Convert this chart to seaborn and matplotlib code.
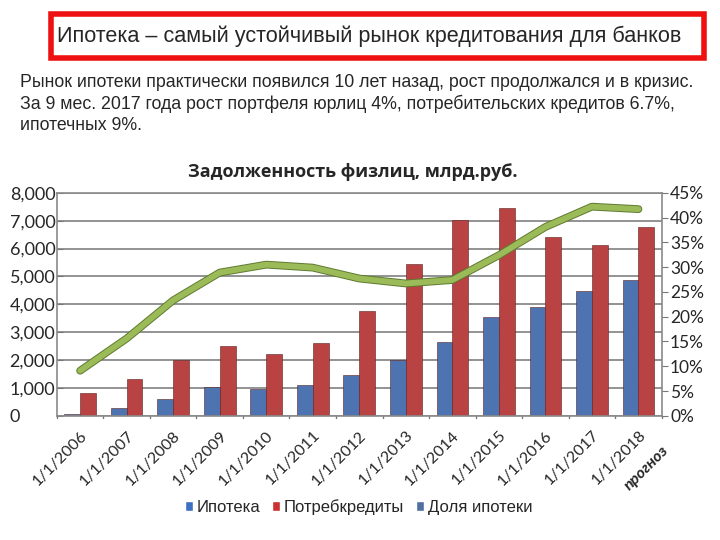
import matplotlib
matplotlib.use("Agg")
import seaborn as sns
import pandas as pd
import numpy as np
import matplotlib.pyplot as plt
import matplotlib.patheffects as pe
from matplotlib.patches import Rectangle, Patch
from matplotlib.ticker import FuncFormatter, MultipleLocator

years = ['1/1/2006', '1/1/2007', '1/1/2008', '1/1/2009', '1/1/2010', '1/1/2011', '1/1/2012',
         '1/1/2013', '1/1/2014', '1/1/2015', '1/1/2016', '1/1/2017', '1/1/2018']
ipoteka = [60, 265, 590, 1020, 970, 1090, 1450, 2000, 2630, 3530, 3900, 4460, 4860]
potreb = [800, 1330, 2000, 2500, 2200, 2620, 3760, 5460, 7040, 7470, 6420, 6140, 6790]
dolya = [9.1, 15.6, 23.3, 28.9, 30.5, 29.9, 27.7, 26.7, 27.4, 32.4, 38.1, 42.2, 41.7]

sns.set_style('white')
narrow = ['Liberation Sans', 'DejaVu Sans']
chartfont = ['Lato', 'DejaVu Sans']
plt.rcParams['font.family'] = chartfont

df = pd.DataFrame({'year': years * 2,
                   'value': ipoteka + potreb,
                   'series': ['Ипотека'] * len(years) + ['Потребкредиты'] * len(years)})

fig = plt.figure(figsize=(7.2, 5.4), dpi=100)
ax = fig.add_axes([0.079, 0.230, 0.840, 0.413])

blue = '#3d6fc2'
red = '#cc3030'
sns.barplot(data=df, x='year', y='value', hue='series', palette=[blue, red],
            width=0.68, gap=0, ax=ax, legend=False, edgecolor='#5a2020', linewidth=0.4)
ax.set_ylim(0, 8000)
ax.set_xlim(-0.5, len(years) - 0.5)
ax.yaxis.set_major_locator(MultipleLocator(1000))
ax.yaxis.set_major_formatter(FuncFormatter(lambda v, p: '0' if v == 0 else f'{int(v):,}'))
ax.grid(axis='y', color='#8a8a8a', linewidth=1.3)
ax.set_axisbelow(True)
ax.set_xlabel('')
ax.set_ylabel('')
for s in ax.spines.values():
    s.set_color('#8a8a8a')
    s.set_linewidth(1.2)
ax.tick_params(axis='y', labelsize=13, length=4, color='#777777', pad=34, direction='in')
for t in ax.get_yticklabels():
    t.set_horizontalalignment('left')
ax.set_xticks(range(len(years)))
ax.set_xticklabels(years, rotation=45, ha='right', rotation_mode='anchor', fontsize=11.5)
ax.tick_params(axis='x', length=0, pad=9)
for b in np.arange(-0.5, len(years), 1.0):
    ax.plot([b, b], [0, -70], color='#777777', lw=1.0, clip_on=False)

ax2 = ax.twinx()
sns.lineplot(x=np.arange(len(years)), y=dolya, ax=ax2, color='#9bbb59', linewidth=4.2,
             path_effects=[pe.Stroke(linewidth=5.6, foreground='#5f7a30'), pe.Normal()])
ax2.set_ylim(0, 45)
ax2.yaxis.set_major_locator(MultipleLocator(5))
ax2.yaxis.set_major_formatter(FuncFormatter(lambda v, p: f'{int(v)}%'))
ax2.tick_params(axis='y', labelsize=12.5, length=4, color='#777777', pad=2, direction='out')
ax2.grid(False)
for s in ax2.spines.values():
    s.set_visible(False)

ax.text(len(years) - 1 + 0.6, -0.145, 'прогноз', transform=ax.get_xaxis_transform(),
        rotation=45, ha='right', va='center', rotation_mode='anchor', fontsize=11.5,
        fontweight='bold', fontstyle='italic')

fig.text(0.490, 0.681, 'Задолженность физлиц, млрд.руб.', ha='center', va='center',
         fontsize=13, fontweight='bold', family=['Open Sans', 'DejaVu Sans'])

handles = [Patch(facecolor=blue), Patch(facecolor=red), Patch(facecolor='#4f6fa0')]
fig.legend(handles, ['Ипотека', 'Потребкредиты', 'Доля ипотеки'], loc='center',
           bbox_to_anchor=(0.498, 0.061), ncol=3, frameon=False, handlelength=0.5,
           handleheight=0.5, handletextpad=0.2, columnspacing=0.7,
           prop={'family': narrow, 'size': 12})

fig.patches.append(Rectangle((0.071, 0.892), 0.907, 0.082, transform=fig.transFigure,
                             fill=False, edgecolor='#ee1111', linewidth=4))
fig.text(0.079, 0.932, 'Ипотека – самый устойчивый рынок кредитования для банков',
         ha='left', va='center', fontsize=15.6, family=narrow)
fig.text(0.028, 0.848, 'Рынок ипотеки практически появился 10 лет назад, рост продолжался и в кризис.',
         ha='left', va='center', fontsize=12.8, family=narrow)
fig.text(0.028, 0.808, 'За 9 мес. 2017 года рост портфеля юрлиц 4%, потребительских кредитов 6.7%,',
         ha='left', va='center', fontsize=12.8, family=narrow)
fig.text(0.028, 0.768, 'ипотечных 9%.', ha='left', va='center', fontsize=12.8, family=narrow)

fig.savefig('out.png', dpi=100)
